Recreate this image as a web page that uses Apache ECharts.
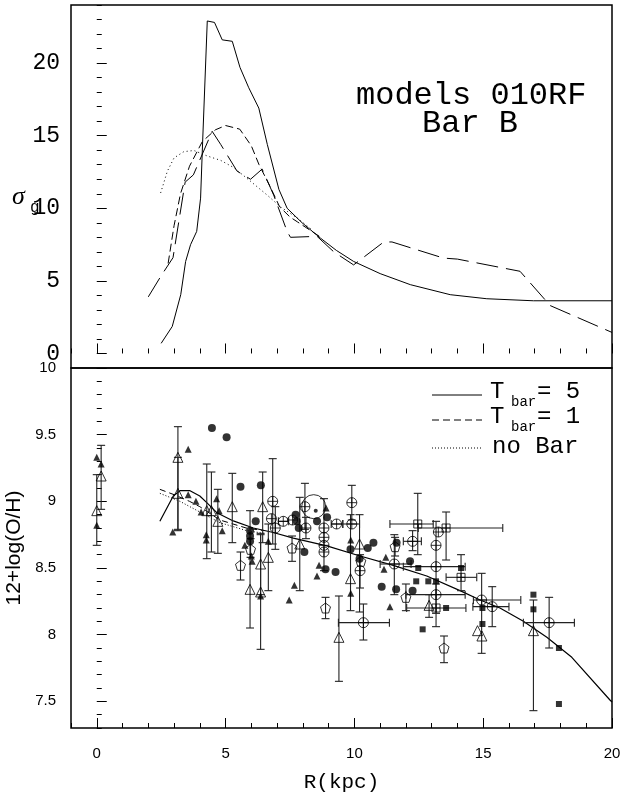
<!DOCTYPE html>
<html><head><meta charset="utf-8">
<script src="https://cdn.jsdelivr.net/npm/echarts@6/dist/echarts.min.js"></script>
<style>html,body{margin:0;padding:0;background:#fff}#c{width:624px;height:795px}</style>
</head><body><div id="c"></div>
<script>
// ---------- top panel: sigma_g vs R ----------
const topSolid = [[2.5,0.7],[2.93,1.86],[3.26,4.05],[3.45,6.34],[3.64,7.49],[3.88,8.41],[4.03,10.7],[4.11,14.6],[4.29,22.9],[4.57,22.8],[4.87,21.6],[5.26,21.5],[5.56,19.7],[5.9,18.3],[6.29,16.9],[6.62,14.4],[7.07,11.3],[7.39,10.0],[7.97,9.0],[8.68,7.95],[9.3,7.1],[9.97,6.34],[11.0,5.5],[12.17,4.74],[13.72,4.05],[15.14,3.77],[16.95,3.63],[20,3.63]];
const topShortDash = [[2.77,6.2],[3.0,8.8],[3.25,11.0],[3.6,12.9],[4.1,14.6],[4.6,15.4],[5.0,15.7],[5.55,15.45],[6.0,14.3],[6.3,13.0],[6.7,11.6],[7.1,10.1],[7.5,9.4],[7.8,9.05],[8.7,8.0]];
const topLongDash = [[2.0,3.9],[2.48,5.3],[2.96,6.6],[3.43,11.8],[3.75,12.3],[4.48,15.3],[4.81,14.4],[5.45,12.55],[5.97,12.0],[6.42,12.7],[6.87,10.9],[7.39,8.4],[7.52,8.0],[8.29,8.05],[8.55,8.07],[9.2,7.0],[9.97,6.1],[11.14,7.68],[11.46,7.68],[13.46,6.57],[14.0,6.5],[16.43,5.66],[17.6,3.3],[20,1.45]];
const topDotted = [[2.48,11.06],[2.74,12.55],[3.0,13.47],[3.38,13.9],[3.77,13.98],[4.29,13.6],[4.81,13.3],[5.32,12.8],[5.97,11.86],[6.62,10.9],[7.13,10.1],[7.78,9.33],[8.3,8.6]];

// ---------- bottom panel: 12+log(O/H) vs R ----------
const botSolid = [[2.45,8.85],[2.97,9.04],[3.23,9.08],[3.62,9.08],[4.0,9.04],[4.27,8.99],[4.66,8.915],[5.3,8.853],[6.08,8.8],[6.85,8.766],[7.63,8.724],[8.93,8.666],[10.22,8.59],[11.51,8.52],[12.81,8.44],[14.1,8.33],[14.88,8.26],[15.65,8.2],[16.56,8.1],[17.47,7.98],[18.44,7.83],[19.92,7.51],[20.0,7.495]];
const botDashed = [[2.45,9.09],[3.0,9.05],[3.6,9.0],[4.0,8.96],[4.78,8.86],[5.8,8.8],[6.5,8.78]];
const botDotted = [[2.45,9.06],[3.23,9.0],[4.0,8.92],[4.78,8.84],[5.82,8.78],[6.5,8.76]];

// observations
const filledTriangles = [[0,9.33],[0.17,9.28],[0,8.82],[2.95,8.77],[3.55,9.39],[3.55,9.05],[3.85,9.0],[4.05,8.92],[4.25,8.75],[4.25,8.71],[4.65,9.02],[4.75,8.93],[4.87,8.78],[5.75,8.67],[6.0,8.59],[6.03,8.55],[6.36,8.29],[6.66,8.70],[7.47,8.26],[7.67,8.37],[8.55,8.44],[8.63,8.52],[8.9,8.95],[9.86,8.71],[9.86,8.31],[11.22,8.58],[11.15,8.49],[11.38,8.21]];
// [R, value, low, high]
const openTriangles = [[0,8.93,8.67,9.2],[0.17,9.19,8.94,9.42],[3.15,9.33,8.78,9.56],[3.15,9.06,8.79,9.33],[4.27,8.93,8.57,9.28],[4.45,8.93,8.62,9.22],[4.7,8.85,8.61,9.09],[5.26,8.96,8.69,9.21],[6.44,8.96,8.69,9.22],[5.95,8.34,8.05,8.93],[6.36,8.53,8.30,8.76],[6.36,8.32,7.89,8.75],[6.66,8.58,8.33,8.83],[7.88,8.68,8.33,9.03],[9.85,8.42,8.18,8.9],[10.2,8.68,8.17,8.9],[9.4,7.98,7.65,8.29],[12.9,8.22,8.13,8.3],[14.78,8.03,null,null],[14.95,7.99,null,null],[16.95,8.03,7.43,8.26]];
const filledCircles = [[4.47,9.55],[5.04,9.48],[5.58,9.11],[6.37,9.12],[6.17,8.85],[5.95,8.78],[5.95,8.74],[5.95,8.70],[7.72,8.90],[7.76,8.85],[7.84,8.80],[8.06,8.62],[8.55,8.85],[8.94,8.88],[8.88,8.49],[9.27,8.47],[9.85,8.64],[10.2,8.57],[10.52,8.65],[10.74,8.69],[11.06,8.36],[11.62,8.34],[11.64,8.69],[12.16,8.55],[12.26,8.33]];
// [R, value, yLow, yHigh, xLow, xHigh]
const crossCircles = [[6.83,9.0,8.68,9.32,null,null],[6.78,8.87,null,null,null,null],[6.93,8.80,8.64,8.96,null,null],[7.24,8.85,null,null,7.05,7.45],[7.6,8.86,null,null,null,null],[8.12,8.80,8.72,8.88,null,null],[8.08,8.96,8.79,9.135,null,null],[8.82,8.80,8.48,9.02,null,null],[8.82,8.73,null,null,null,null],[8.82,8.67,null,null,null,null],[8.82,8.62,null,null,null,null],[9.31,8.83,null,null,9.1,9.55],[9.9,8.99,8.86,9.12,null,null],[9.9,8.83,null,null,9.55,10.2],[10.22,8.48,8.35,8.6,null,null],[10.35,8.09,7.96,8.23,9.38,11.36],[11.55,8.53,8.3,8.75,11.0,12.2],[12.26,8.70,8.63,8.78,11.9,12.6],[13.26,8.77,null,null,null,null],[13.17,8.67,8.16,8.85,null,null],[13.17,8.51,null,null,11.9,14.3],[13.17,8.30,null,null,12.0,14.3],[14.94,8.26,7.86,8.46,14.62,16.46],[15.35,8.21,8.06,8.36,14.6,16.0],[17.56,8.09,7.90,8.28,16.56,18.54]];
const crossSquares = [[12.46,8.83,8.6,9.06,11.38,13.06],[13.56,8.80,8.56,8.92,12.48,15.76],[14.14,8.43,8.33,8.60,13.56,14.75],[13.17,8.20,8.06,8.38,12.03,14.33]];
const pentagons = [[5.58,8.52,8.41,8.62],[5.97,8.64,8.58,8.72],[7.58,8.65,8.55,8.74],[8.88,8.2,8.12,8.28],[10.25,8.55,null,null],[11.58,8.66,8.59,8.73],[12.0,8.28,8.18,8.38],[13.48,7.9,7.79,7.99]];
const filledSquares = [[12.48,8.50],[12.4,8.40],[12.87,8.40],[13.17,8.40],[14.14,8.50],[13.56,8.20],[14.97,8.2],[14.97,8.08],[12.65,8.04],[16.95,8.30],[16.95,8.19],[17.94,7.90],[17.94,7.48]];
const smallDots = [[8.5,8.93]];
const bigCircles = [[8.42,8.96]];

// tick labels
const xTickLabels = [0,5,10,15,20];
const topYTickLabels = [0,5,10,15,20];
const botYTickLabels = [7.5,8,8.5,9,9.5,10];

// ---------- build ----------
const K = '#000';
const mono = 'Liberation Mono';
const sans = 'Liberation Sans';

const vBars = [], hBars = [];
openTriangles.forEach(d => { if (d[2] != null) vBars.push([d[0], d[2], d[3]]); });
pentagons.forEach(d => { if (d[2] != null) vBars.push([d[0], d[2], d[3]]); });
crossCircles.concat(crossSquares).forEach(d => {
  if (d[2] != null) vBars.push([d[0], d[2], d[3]]);
  if (d[4] != null) hBars.push([d[4], d[5], d[1]]);
});
const xy = a => a.map(d => [d[0], d[1]]);

const minorX = []; for (let r = -1; r <= 20; r++) if (r % 5 !== 0) minorX.push(r);
const minorTopY = []; for (let s = -1; s <= 24; s++) if (s % 5 !== 0) minorTopY.push(s);
const minorBotY = []; for (let k = 73; k <= 100; k++) if (k % 5 !== 0) minorBotY.push(k / 10);

const PENT = 'path://M0,-1 L0.951,-0.309 L0.588,0.809 L-0.588,0.809 L-0.951,-0.309 Z';
const CPLUS = 'path://M0,-1 A1,1 0 1,1 0,1 A1,1 0 1,1 0,-1 Z M-1,0 L1,0 M0,-1 L0,1';
const SPLUS = 'path://M-1,-1 L1,-1 L1,1 L-1,1 Z M-1,0 L1,0 M0,-1 L0,1';

function baseAxis(grid, min, max, pos) {
  return {gridIndex: grid, type: 'value', min: min, max: max, position: pos,
    axisLine: {show: false}, splitLine: {show: false}, axisLabel: {show: false},
    axisTick: {show: true, inside: true, length: 10, lineStyle: {color: K, width: 1}}};
}
const xAxes = [
  Object.assign(baseAxis(0, -1, 20, 'bottom'), {axisTick: {show: true, inside: true, length: 10, customValues: xTickLabels, lineStyle: {color: K, width: 1}}}),
  Object.assign(baseAxis(0, -1, 20, 'bottom'), {axisTick: {show: true, inside: true, length: 5, customValues: minorX, lineStyle: {color: K, width: 1}}}),
  Object.assign(baseAxis(1, -1, 20, 'bottom'), {
    axisTick: {show: true, inside: true, length: 10, customValues: xTickLabels, lineStyle: {color: K, width: 1}},
    axisLabel: {show: true, customValues: xTickLabels, margin: 18, color: K, fontFamily: sans, fontSize: 15},
    name: 'R(kpc)', nameLocation: 'middle', nameGap: 44,
    nameTextStyle: {color: K, fontFamily: mono, fontSize: 21}}),
  Object.assign(baseAxis(1, -1, 20, 'bottom'), {axisTick: {show: true, inside: true, length: 5, customValues: minorX, lineStyle: {color: K, width: 1}}})
];
const yAxes = [
  Object.assign(baseAxis(0, -1, 24, 'left'), {
    axisTick: {show: true, inside: true, length: 10, customValues: topYTickLabels, lineStyle: {color: K, width: 1}},
    axisLabel: {show: true, customValues: topYTickLabels, margin: 11, color: K, fontFamily: mono, fontSize: 23}}),
  Object.assign(baseAxis(0, -1, 24, 'left'), {axisTick: {show: true, inside: true, length: 5, customValues: minorTopY, lineStyle: {color: K, width: 1}}}),
  Object.assign(baseAxis(1, 7.3, 10, 'left'), {
    axisTick: {show: true, inside: true, length: 10, customValues: botYTickLabels, lineStyle: {color: K, width: 1}},
    axisLabel: {show: true, customValues: botYTickLabels, margin: 15, color: K, fontFamily: sans, fontSize: 15},
    name: '12+log(O/H)', nameLocation: 'middle', nameGap: 29, nameRotate: 90,
    nameTextStyle: {color: K, fontFamily: sans, fontSize: 21}}),
  Object.assign(baseAxis(1, 7.3, 10, 'left'), {axisTick: {show: true, inside: true, length: 5, customValues: minorBotY, lineStyle: {color: K, width: 1}}})
];

function line(data, type, xi, yi, w) {
  return {type: 'line', data: data, xAxisIndex: xi, yAxisIndex: yi, showSymbol: false, symbol: 'none',
    smooth: false, lineStyle: {color: K, width: w || 1, type: type}, z: 3, silent: true, animation: false};
}
function scat(data, symbol, size, filled, bw) {
  return {type: 'scatter', data: xy(data), xAxisIndex: 2, yAxisIndex: 2, symbol: symbol, symbolSize: size,
    itemStyle: filled ? {color: K} : {color: 'rgba(0,0,0,0)', borderColor: K, borderWidth: bw || 1},
    z: 5, silent: true, animation: false};
}
const barStyle = {stroke: '#222', lineWidth: 1.1};
const vBarSeries = {type: 'custom', data: vBars, xAxisIndex: 2, yAxisIndex: 2, encode: {x: 0, y: [1, 2]}, z: 4, silent: true, animation: false,
  renderItem: function (p, api) {
    const x = api.value(0), a = api.coord([x, api.value(1)]), b = api.coord([x, api.value(2)]), w = 4;
    return {type: 'group', children: [
      {type: 'line', shape: {x1: a[0], y1: a[1], x2: b[0], y2: b[1]}, style: barStyle},
      {type: 'line', shape: {x1: a[0] - w, y1: a[1], x2: a[0] + w, y2: a[1]}, style: barStyle},
      {type: 'line', shape: {x1: b[0] - w, y1: b[1], x2: b[0] + w, y2: b[1]}, style: barStyle}]};
  }};
const hBarSeries = {type: 'custom', data: hBars, xAxisIndex: 2, yAxisIndex: 2, encode: {x: [0, 1], y: 2}, z: 4, silent: true, animation: false,
  renderItem: function (p, api) {
    const y = api.value(2), a = api.coord([api.value(0), y]), b = api.coord([api.value(1), y]), w = 4;
    return {type: 'group', children: [
      {type: 'line', shape: {x1: a[0], y1: a[1], x2: b[0], y2: b[1]}, style: barStyle},
      {type: 'line', shape: {x1: a[0], y1: a[1] - w, x2: a[0], y2: a[1] + w}, style: barStyle},
      {type: 'line', shape: {x1: b[0], y1: b[1] - w, x2: b[0], y2: b[1] + w}, style: barStyle}]};
  }};

function txt(x, y, s, size, font, extra) {
  return {type: 'text', left: x, top: y, silent: true,
    style: Object.assign({text: s, fill: K, font: size + 'px "' + font + '"'}, extra || {})};
}
function lg(x1, x2, y, dash) {
  return {type: 'line', silent: true, shape: {x1: x1, y1: y, x2: x2, y2: y}, style: {stroke: K, lineWidth: 1, lineDash: dash}};
}

const option = {
  backgroundColor: '#fff',
  animation: false,
  grid: [
    {left: 71, right: 12, top: 5, height: 363, show: true, borderColor: K, borderWidth: 1.5, backgroundColor: 'rgba(0,0,0,0)', containLabel: false, outerBoundsMode: 'none'},
    {left: 71, right: 12, top: 368, height: 360, show: true, borderColor: K, borderWidth: 1.5, backgroundColor: 'rgba(0,0,0,0)', containLabel: false, outerBoundsMode: 'none'}
  ],
  xAxis: xAxes,
  yAxis: yAxes,
  series: [
    line(topSolid, 'solid', 0, 0),
    line(topShortDash, [8, 4], 0, 0),
    line(topLongDash, [22, 8], 0, 0),
    line(topDotted, [1, 3], 0, 0),
    line(botSolid, 'solid', 2, 2, 1.2),
    line(botDashed, [6, 4], 2, 2),
    line(botDotted, [1, 2], 2, 2),
    vBarSeries, hBarSeries,
    scat(filledTriangles, 'triangle', 7, true),
    scat(openTriangles, 'triangle', 10, false),
    scat(filledCircles, 'circle', 8, true),
    scat(crossCircles, CPLUS, 10, false),
    scat(crossSquares, SPLUS, 8, false),
    scat(pentagons, PENT, 10, false),
    scat(filledSquares, 'rect', 6, true),
    scat(smallDots, 'circle', 4, true),
    scat(bigCircles, 'circle', 24, false)
  ],
  graphic: [
    txt(356, 80, 'models 010RF', 32, mono),
    txt(422, 108, 'Bar B', 32, mono),
    txt(12, 184, 'σ', 26, 'Liberation Serif', {font: 'italic 26px "Liberation Serif"'}),
    txt(30, 200, 'g', 16, mono),
    lg(432, 482, 395, null),
    txt(490, 380, 'T', 24, mono),
    txt(511, 395, 'bar', 14, mono),
    txt(537, 380, '= 5', 24, mono),
    lg(432, 482, 420, [7, 4]),
    txt(490, 405, 'T', 24, mono),
    txt(511, 420, 'bar', 14, mono),
    txt(537, 405, '= 1', 24, mono),
    lg(432, 482, 448, [1, 2]),
    txt(492, 435, 'no Bar', 24, mono)
  ]
};
const chart = echarts.init(document.getElementById('c'));
chart.setOption(option);
</script>
</body></html>
